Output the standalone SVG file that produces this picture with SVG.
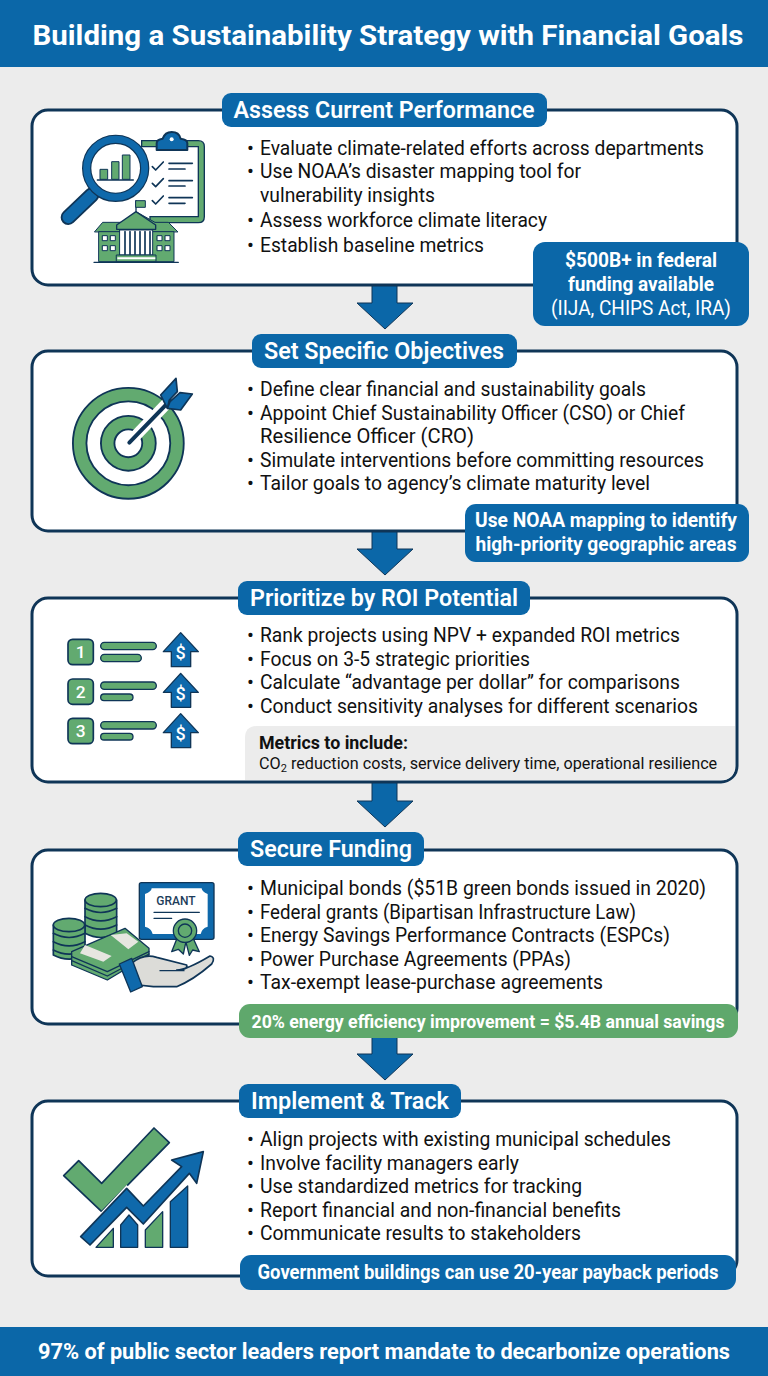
<svg xmlns="http://www.w3.org/2000/svg" width="768" height="1376" viewBox="0 0 768 1376">
<style>
text{font-family:Roboto,"Liberation Sans",sans-serif;fill:#111}
.b{font-size:20.5px}
.t{font-size:23.5px;font-weight:600;fill:#fff;text-anchor:middle}
.w{fill:#fff;text-anchor:middle;font-size:20px;font-weight:700}
.card{fill:#fff;stroke:#0f3557;stroke-width:3}
.pill{fill:#0b67a8}
.gp{fill:#5fa86c}
.dk{stroke:#0f3557;stroke-width:6;stroke-linejoin:round;stroke-linecap:round}
.gr{fill:#62aa70}
.bl{fill:#0f69ab}
.nf{fill:none}
.wh{fill:#fff}
</style>
<defs>
<path id="arr" d="M372 0V19H357L385 45L413 19H397V0Z" fill="#0b67a8" stroke="#0f3557" stroke-width="1"/>
</defs>
<rect width="768" height="1376" fill="#ececec"/>
<g id="header"><rect width="768" height="67" fill="#0b67a8"/><text x="388" y="45" style="font-size:28px;font-weight:700;fill:#fff;text-anchor:middle" textLength="711" lengthAdjust="spacingAndGlyphs">Building a Sustainability Strategy with Financial Goals</text></g>
<g id="connectors">
<use href="#arr" y="284"/><use href="#arr" y="530"/><use href="#arr" y="782"/><use href="#arr" y="1035"/>
</g>

<g id="step1">
<rect class="card" x="32" y="110" width="705" height="175" rx="16"/>
<rect class="pill" x="222" y="93" width="325" height="34" rx="9"/>
<text class="t" x="384" y="118" textLength="301" lengthAdjust="spacingAndGlyphs">Assess Current Performance</text>
<g transform="translate(30,90) scale(.33333)">
<rect class="wh" x="342" y="162" width="172" height="228" />
<path class="gr" d="M335 152H505Q523 152 523 170V380Q523 398 505 398H360V380H505V170H335Z" stroke="#0f3557" stroke-width="4"/>
<path class="bl dk" d="M380 180V160Q380 148 398 146Q405 126 425 126Q447 126 452 146Q472 148 472 160V180Z"/>
<circle cx="425" cy="148" r="6" fill="#fff"/>
<path class="nf dk" d="M367 230L377 240L400 216M367 280L377 290L400 266M367 332L377 342L400 318M417 220H487M417 237H465M417 272H487M417 288H465M417 323H487M417 340H465" style="stroke-width:5"/>
<path d="M115 382L185 315" stroke="#0f3557" stroke-width="46" stroke-linecap="round"/>
<path d="M115 382L185 315" stroke="#0f69ab" stroke-width="35" stroke-linecap="round"/>
<circle cx="257" cy="235" r="87" fill="#fff" stroke="#0f3557" stroke-width="28"/>
<circle cx="257" cy="235" r="87" fill="none" stroke="#0f69ab" stroke-width="21"/>
<path class="gr" stroke="#0f3557" stroke-width="3" d="M210 238H233V268H210ZM245 215H267V268H245ZM277 195H300V268H277Z"/>
<path class="dk" d="M202 270H310" style="stroke-width:4"/>
<path class="gr dk" d="M194 425L218 397H300L345 397L318 365L375 397H415L443 425Z" style="stroke-width:3"/>
<path class="gr dk" d="M207 425H432V515H207Z" style="stroke-width:3"/>
<path class="gr dk" d="M260 405L318 365L377 405V418H260Z" style="stroke-width:4"/>
<path class="dk nf" d="M318 362V332" style="stroke-width:4"/>
<path class="gr dk" d="M318 332H346V352H318Z" style="stroke-width:3"/>
<path class="wh dk" d="M270 420H368V495H270Z" style="stroke-width:3"/>
<path class="dk" d="M285 425V493M300 425V493M315 425V493M330 425V493M345 425V493M360 425V493" style="stroke-width:5"/>
<path class="gr dk" d="M260 495H378V515H260Z" style="stroke-width:3"/>
<path class="wh" d="M262 502H376V508H262Z"/>
<path class="wh dk" d="M218 437h14v15h-14zM242 437h14v15h-14zM218 467h14v15h-14zM242 467h14v15h-14zM382 437h14v15h-14zM406 437h14v15h-14zM382 467h14v15h-14zM406 467h14v15h-14z" style="stroke-width:3"/>
<path class="dk" d="M192 517H445" style="stroke-width:4"/>
</g>
<text class="b" x="247" y="155">•</text><text class="b" x="260" y="155" textLength="444" lengthAdjust="spacingAndGlyphs">Evaluate climate-related efforts across departments</text>
<text class="b" x="247" y="178">•</text><text class="b" x="260" y="178" textLength="321" lengthAdjust="spacingAndGlyphs">Use NOAA’s disaster mapping tool for</text>
<text class="b" x="260" y="202" textLength="175" lengthAdjust="spacingAndGlyphs">vulnerability insights</text>
<text class="b" x="247" y="227">•</text><text class="b" x="260" y="227" textLength="287" lengthAdjust="spacingAndGlyphs">Assess workforce climate literacy</text>
<text class="b" x="247" y="252">•</text><text class="b" x="260" y="252" textLength="224" lengthAdjust="spacingAndGlyphs">Establish baseline metrics</text>
<rect class="pill" x="533" y="242" width="216" height="84" rx="12"/>
<text class="w" x="641" y="267" textLength="152" lengthAdjust="spacingAndGlyphs">$500B+ in federal</text>
<text class="w" x="641" y="291" textLength="146" lengthAdjust="spacingAndGlyphs">funding available</text>
<text class="w" x="641" y="315" style="font-weight:400;font-size:21px" textLength="180" lengthAdjust="spacingAndGlyphs">(IIJA, CHIPS Act, IRA)</text>
</g>

<g id="step2">
<rect class="card" x="32" y="351" width="705" height="180" rx="16"/>
<rect class="pill" x="252" y="334" width="265" height="34" rx="9"/>
<text class="t" x="384" y="359" textLength="240" lengthAdjust="spacingAndGlyphs">Set Specific Objectives</text>
<g transform="translate(30,350) scale(.33333)">
<circle cx="295" cy="280" r="146" class="nf" stroke="#0f3557" stroke-width="46"/>
<circle cx="295" cy="280" r="146" class="nf" stroke="#62aa70" stroke-width="35"/>
<circle cx="295" cy="280" r="62" class="nf" stroke="#0f3557" stroke-width="46"/>
<circle cx="295" cy="280" r="62" class="nf" stroke="#62aa70" stroke-width="35"/>
<path d="M295 280L420 150" stroke="#fff" stroke-width="34"/>
<path d="M298 278L420 152" stroke="#0f3557" stroke-width="12" stroke-linecap="round"/>
<path class="bl dk" d="M412 175L392 135L438 85L442 125L418 150ZM412 175L452 180L487 132L450 128L420 155Z" style="stroke-width:5"/>
</g>
<text class="b" x="247" y="396">•</text><text class="b" x="260" y="396" textLength="386" lengthAdjust="spacingAndGlyphs">Define clear financial and sustainability goals</text>
<text class="b" x="247" y="420">•</text><text class="b" x="260" y="420" textLength="425" lengthAdjust="spacingAndGlyphs">Appoint Chief Sustainability Officer (CSO) or Chief</text>
<text class="b" x="260" y="443" textLength="214" lengthAdjust="spacingAndGlyphs">Resilience Officer (CRO)</text>
<text class="b" x="247" y="467">•</text><text class="b" x="260" y="467" textLength="444" lengthAdjust="spacingAndGlyphs">Simulate interventions before committing resources</text>
<text class="b" x="247" y="490">•</text><text class="b" x="260" y="490" textLength="390" lengthAdjust="spacingAndGlyphs">Tailor goals to agency’s climate maturity level</text>
<rect class="pill" x="465" y="504" width="284" height="58" rx="11"/>
<text class="w" x="606" y="527" textLength="262" lengthAdjust="spacingAndGlyphs">Use NOAA mapping to identify</text>
<text class="w" x="606" y="551" textLength="261" lengthAdjust="spacingAndGlyphs">high-priority geographic areas</text>
</g>

<g id="step3">
<rect class="card" x="32" y="598" width="705" height="184" rx="16"/>
<path d="M245 780V738Q245 726 257 726H735V766Q735 780 721 780Z" fill="#ececec"/>
<rect class="pill" x="238" y="581" width="292" height="34" rx="9"/>
<text class="t" x="384" y="606" textLength="268" lengthAdjust="spacingAndGlyphs">Prioritize by ROI Potential</text>
<g transform="translate(30,620) scale(.33333)">
<g><rect class="gr dk" x="114" y="58" width="76" height="76" rx="14" style="stroke-width:5"/>
<rect class="gr dk" x="212" y="67" width="167" height="22" rx="11" style="stroke-width:4"/>
<rect class="gr dk" x="212" y="103" width="122" height="22" rx="11" style="stroke-width:4"/>
<path class="bl dk" d="M452 38L505 95H482V140H424V95H400Z" style="stroke-width:4"/></g>
<g><rect class="gr dk" x="114" y="177" width="76" height="76" rx="14" style="stroke-width:5"/>
<rect class="gr dk" x="212" y="186" width="167" height="22" rx="11" style="stroke-width:4"/>
<rect class="gr dk" x="212" y="222" width="97" height="20" rx="10" style="stroke-width:4"/>
<path class="bl dk" d="M452 160L505 217H482V262H424V217H400Z" style="stroke-width:4"/></g>
<g><rect class="gr dk" x="114" y="295" width="76" height="76" rx="14" style="stroke-width:5"/>
<rect class="gr dk" x="212" y="305" width="167" height="22" rx="11" style="stroke-width:4"/>
<rect class="gr dk" x="212" y="340" width="97" height="20" rx="10" style="stroke-width:4"/>
<path class="bl dk" d="M452 281L505 338H482V383H424V338H400Z" style="stroke-width:4"/></g>
<g style="font-weight:500">
<text x="152" y="113" style="font-size:52px;fill:#fff;text-anchor:middle">1</text>
<text x="152" y="233" style="font-size:52px;fill:#fff;text-anchor:middle">2</text>
<text x="152" y="351" style="font-size:52px;fill:#fff;text-anchor:middle">3</text>
<text x="452" y="118" style="font-size:54px;fill:#fff;text-anchor:middle">$</text>
<text x="452" y="239" style="font-size:54px;fill:#fff;text-anchor:middle">$</text>
<text x="452" y="361" style="font-size:54px;fill:#fff;text-anchor:middle">$</text>
</g>
</g>
<text class="b" x="247" y="642">•</text><text class="b" x="260" y="642" textLength="420" lengthAdjust="spacingAndGlyphs">Rank projects using NPV + expanded ROI metrics</text>
<text class="b" x="247" y="666">•</text><text class="b" x="260" y="666" textLength="270" lengthAdjust="spacingAndGlyphs">Focus on 3-5 strategic priorities</text>
<text class="b" x="247" y="689">•</text><text class="b" x="260" y="689" textLength="420" lengthAdjust="spacingAndGlyphs">Calculate “advantage per dollar” for comparisons</text>
<text class="b" x="247" y="713">•</text><text class="b" x="260" y="713" textLength="438" lengthAdjust="spacingAndGlyphs">Conduct sensitivity analyses for different scenarios</text>
<text x="259" y="749" style="font-size:18px;font-weight:700" textLength="149" lengthAdjust="spacingAndGlyphs">Metrics to include:</text>
<text x="259" y="769" style="font-size:16.2px">CO<tspan style="font-size:11px" dy="3">2</tspan><tspan dy="-3"> reduction costs, service delivery time, operational resilience</tspan></text>
</g>

<g id="step4">
<rect class="card" x="32" y="850" width="705" height="174" rx="16"/>
<rect class="pill" x="238" y="832" width="186" height="34" rx="9"/>
<text class="t" x="331" y="857" textLength="162" lengthAdjust="spacingAndGlyphs">Secure Funding</text>
<g transform="translate(30,870) scale(.33333)">
<g class="gr dk" style="stroke-width:5">
<path d="M165 90V190Q212 215 260 190V90Z"/><ellipse cx="212" cy="90" rx="47" ry="20"/>
<path class="nf" d="M165 115Q212 140 260 115M165 140Q212 165 260 140M165 165Q212 190 260 165"/>
<path d="M70 165V255Q117 280 165 255V165Z"/><ellipse cx="117" cy="165" rx="47" ry="20"/>
<path class="nf" d="M70 190Q117 215 165 190M70 215Q117 240 165 215M70 240Q117 265 165 240"/>
</g>
<rect class="bl dk" x="328" y="38" width="224" height="170" rx="6" style="stroke-width:4"/>
<path d="M365 55H515Q515 65 533 72V170Q515 175 512 192H368Q365 175 345 170V72Q365 65 365 55Z" fill="#fff"/>
<text x="438" y="106" style="font-size:36px;font-weight:500;fill:#1d3d5a;text-anchor:middle">GRANT</text>
<path class="dk nf" d="M372 127H508M372 145H425" style="stroke-width:4"/>
<path class="gr dk" d="M445 195L425 245L445 238L460 252L470 205ZM485 195L508 245L488 240L478 256L465 205Z" style="stroke-width:4"/>
<circle class="gr dk" cx="465" cy="182" r="35" style="stroke-width:4"/>
<circle class="gr dk" cx="465" cy="182" r="20" style="stroke-width:4"/>
<path class="gr dk" d="M125 245L285 175L357 235V255L232 330L125 285Z" style="stroke-width:4"/>
<path class="nf dk" d="M125 260L232 305L357 245M125 272L232 318L357 252" style="stroke-width:4"/>
<path d="M165 225L245 258L220 275L150 250ZM242 195L290 190L325 215L295 238Z" fill="#e6e6e0"/>
<path fill="#dcdcd8" class="dk" d="M305 280Q340 250 380 262L470 285Q475 300 440 300Q470 300 540 258Q558 262 545 282Q490 330 440 350H370L325 345Z" style="stroke-width:5"/>
<path class="dk nf" d="M390 302H462" style="stroke-width:4"/>
<path class="bl dk" d="M268 282L305 265L337 350L302 366Z" style="stroke-width:4"/>
</g>
<text class="b" x="247" y="895">•</text><text class="b" x="260" y="895" textLength="446" lengthAdjust="spacingAndGlyphs">Municipal bonds ($51B green bonds issued in 2020)</text>
<text class="b" x="247" y="919">•</text><text class="b" x="260" y="919" textLength="376" lengthAdjust="spacingAndGlyphs">Federal grants (Bipartisan Infrastructure Law)</text>
<text class="b" x="247" y="942">•</text><text class="b" x="260" y="942" textLength="410" lengthAdjust="spacingAndGlyphs">Energy Savings Performance Contracts (ESPCs)</text>
<text class="b" x="247" y="966">•</text><text class="b" x="260" y="966" textLength="311" lengthAdjust="spacingAndGlyphs">Power Purchase Agreements (PPAs)</text>
<text class="b" x="247" y="989">•</text><text class="b" x="260" y="989" textLength="343" lengthAdjust="spacingAndGlyphs">Tax-exempt lease-purchase agreements</text>
<rect class="gp" x="239" y="1004" width="499" height="34" rx="11"/>
<text class="w" x="488" y="1028" style="font-size:18px" textLength="473" lengthAdjust="spacingAndGlyphs">20% energy efficiency improvement = $5.4B annual savings</text>
</g>

<g id="step5">
<rect class="card" x="32" y="1101" width="705" height="175" rx="16"/>
<rect class="pill" x="239" y="1084" width="222" height="34" rx="9"/>
<text class="t" x="350" y="1109" textLength="198" lengthAdjust="spacingAndGlyphs">Implement &amp; Track</text>
<g transform="translate(30,1110) scale(.33333)">
<path class="gr dk" d="M101 197L146 152L215 220L372 54L418 98L215 305Z" style="stroke-width:5"/>
<path d="M140 385L290 225L340 280L450 165L420 145L530 115L505 235L475 200L340 350L290 300L180 415Z" fill="#fff"/>
<path class="gr dk" d="M198 412L250 355V412ZM346 412V360L398 305V412Z" style="stroke-width:4"/>
<path class="bl dk" d="M272 412V345L297 315L323 345V412ZM421 412V275L473 228V412Z" style="stroke-width:4"/>
<path class="bl dk" d="M152 380L290 235L340 288L455 170L425 150L520 125L500 220L478 190L340 342L290 292L180 405Z" style="stroke-width:5"/>
</g>
<text class="b" x="247" y="1146">•</text><text class="b" x="260" y="1146" textLength="411" lengthAdjust="spacingAndGlyphs">Align projects with existing municipal schedules</text>
<text class="b" x="247" y="1170">•</text><text class="b" x="260" y="1170" textLength="259" lengthAdjust="spacingAndGlyphs">Involve facility managers early</text>
<text class="b" x="247" y="1193">•</text><text class="b" x="260" y="1193" textLength="322" lengthAdjust="spacingAndGlyphs">Use standardized metrics for tracking</text>
<text class="b" x="247" y="1217">•</text><text class="b" x="260" y="1217" textLength="361" lengthAdjust="spacingAndGlyphs">Report financial and non-financial benefits</text>
<text class="b" x="247" y="1240">•</text><text class="b" x="260" y="1240" textLength="321" lengthAdjust="spacingAndGlyphs">Communicate results to stakeholders</text>
<rect class="pill" x="240" y="1255" width="496" height="35" rx="11"/>
<text class="w" x="488" y="1279" textLength="461" lengthAdjust="spacingAndGlyphs">Government buildings can use 20-year payback periods</text>
</g>

<g id="footer"><rect y="1327" width="768" height="49" fill="#0b67a8"/><text x="384" y="1359" style="font-size:22px;font-weight:700;fill:#fff;text-anchor:middle" textLength="692" lengthAdjust="spacingAndGlyphs">97% of public sector leaders report mandate to decarbonize operations</text></g>
</svg>
